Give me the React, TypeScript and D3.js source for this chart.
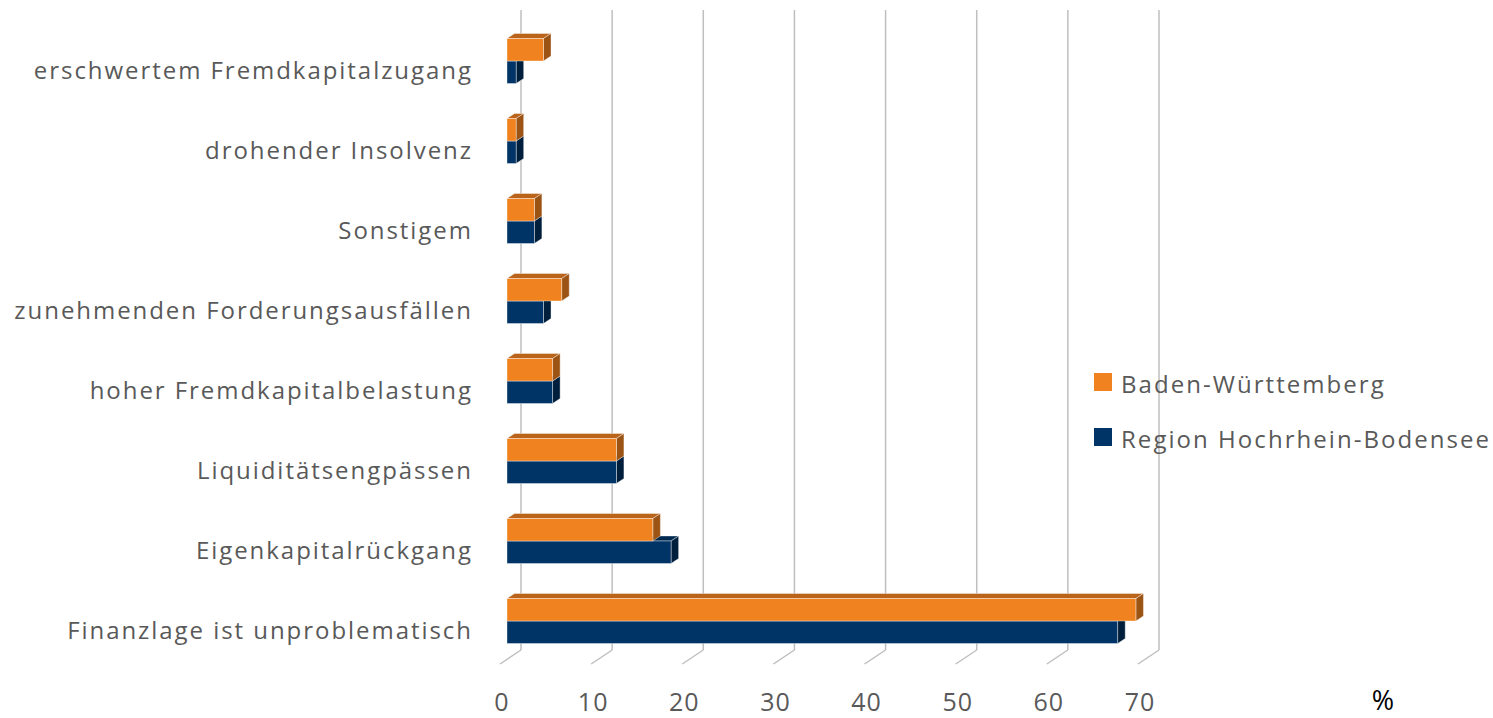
import React from "react";
import * as d3 from "d3";

const categories = [
  "erschwertem Fremdkapitalzugang",
  "drohender Insolvenz",
  "Sonstigem",
  "zunehmenden Forderungsausfällen",
  "hoher Fremdkapitalbelastung",
  "Liquiditätsengpässen",
  "Eigenkapitalrückgang",
  "Finanzlage ist unproblematisch",
];
const seriesNames = ["Baden-Württemberg", "Region Hochrhein-Bodensee"];
const bwValues = [4, 1, 3, 6, 5, 12, 16, 69];
const regionValues = [1, 1, 3, 4, 5, 12, 18, 67];
const xTicks = [0, 10, 20, 30, 40, 50, 60, 70];
const unitLabel = "%";

const colors = {
  bw: { front: "#F0821F", top: "#B9641A", side: "#9C5415" },
  region: { front: "#003366", top: "#00294F", side: "#001F3D" },
};

const FONT = "'Open Sans', sans-serif";
const TEXT = "#595959";
const LS = 1.95;

export default function App() {
  const W = 1493, H = 718;
  // floor front plane
  const xFloorFront = d3.scaleLinear().domain([0, 70]).range([500, 1138]);
  const depthDx = 21, depthDy = -14; // full depth offset front->back
  const floorFrontY = 664;
  const backFloorY = floorFrontY + depthDy;
  const wallTop = 10;
  const barFrontD = 1 / 3;
  const barDepth = 0.36;

  const yBand = d3.scaleBand().domain(categories).range([21, 661]).paddingInner(0).paddingOuter(0);
  const inner = d3.scaleBand().domain(seriesNames).range([17.5, 62.5]);

  const bdx = depthDx * barDepth, bdy = depthDy * barDepth;
  const fx = (v: number) => xFloorFront(v) + depthDx * barFrontD;

  const bars: React.ReactNode[] = [];
  categories.forEach((c, i) => {
    const order: [string, number, typeof colors.bw][] = [
      [seriesNames[1], regionValues[i], colors.region],
      [seriesNames[0], bwValues[i], colors.bw],
    ];
    order.forEach(([s, v, col]) => {
      const y0 = (yBand(c) as number) + (inner(s) as number);
      const h = inner.bandwidth();
      const x0 = fx(0), x1 = fx(v);
      const edge = "rgba(255,255,255,0.55)";
      bars.push(
        <g key={c + s}>
          <polygon
            points={`${x0},${y0} ${x1},${y0} ${x1 + bdx},${y0 + bdy} ${x0 + bdx},${y0 + bdy}`}
            fill={col.top} stroke={edge} strokeWidth={0.7}
          />
          <polygon
            points={`${x1},${y0} ${x1 + bdx},${y0 + bdy} ${x1 + bdx},${y0 + h + bdy} ${x1},${y0 + h}`}
            fill={col.side} stroke={edge} strokeWidth={0.7}
          />
          <rect x={x0} y={y0} width={x1 - x0} height={h} fill={col.front} stroke={edge} strokeWidth={0.7} />
        </g>
      );
    });
  });

  return (
    <svg width={W} height={H} style={{ position: "absolute", left: 0, top: 0 }} fontFamily={FONT}>
      <rect width={W} height={H} fill="#fff" />
      {xTicks.map((t) => {
        const xb = xFloorFront(t) + depthDx;
        return (
          <g key={t} stroke="#BFBFBF" strokeWidth={1.5} fill="none">
            <line x1={xb} x2={xb} y1={wallTop} y2={backFloorY} />
            <line x1={xb} y1={backFloorY} x2={xFloorFront(t)} y2={floorFrontY} />
          </g>
        );
      })}
      {bars}
      {categories.map((c) => (
        <text key={c} x={471 + LS} y={(yBand(c) as number) + yBand.bandwidth() / 2 + 8} textAnchor="end"
          dominantBaseline="central" fontSize={24} letterSpacing={LS} fill={TEXT}>{c}</text>
      ))}
      {xTicks.map((t) => (
        <text key={t} x={xFloorFront(t) + 2} y={711} textAnchor="middle"
          fontSize={25} letterSpacing={1} fill={TEXT}>{t}</text>
      ))}
      <text x={1383} y={710} textAnchor="middle" fontSize={27} fill="#000">{unitLabel}</text>
      {seriesNames.map((s, i) => (
        <g key={s} transform={`translate(1094,${373 + i * 55})`}>
          <rect width={18} height={18} fill={i === 0 ? colors.bw.front : colors.region.front} />
          <text x={27} y={10} dominantBaseline="central" fontSize={24} letterSpacing={2.05} fill={TEXT}>{s}</text>
        </g>
      ))}
    </svg>
  );
}
